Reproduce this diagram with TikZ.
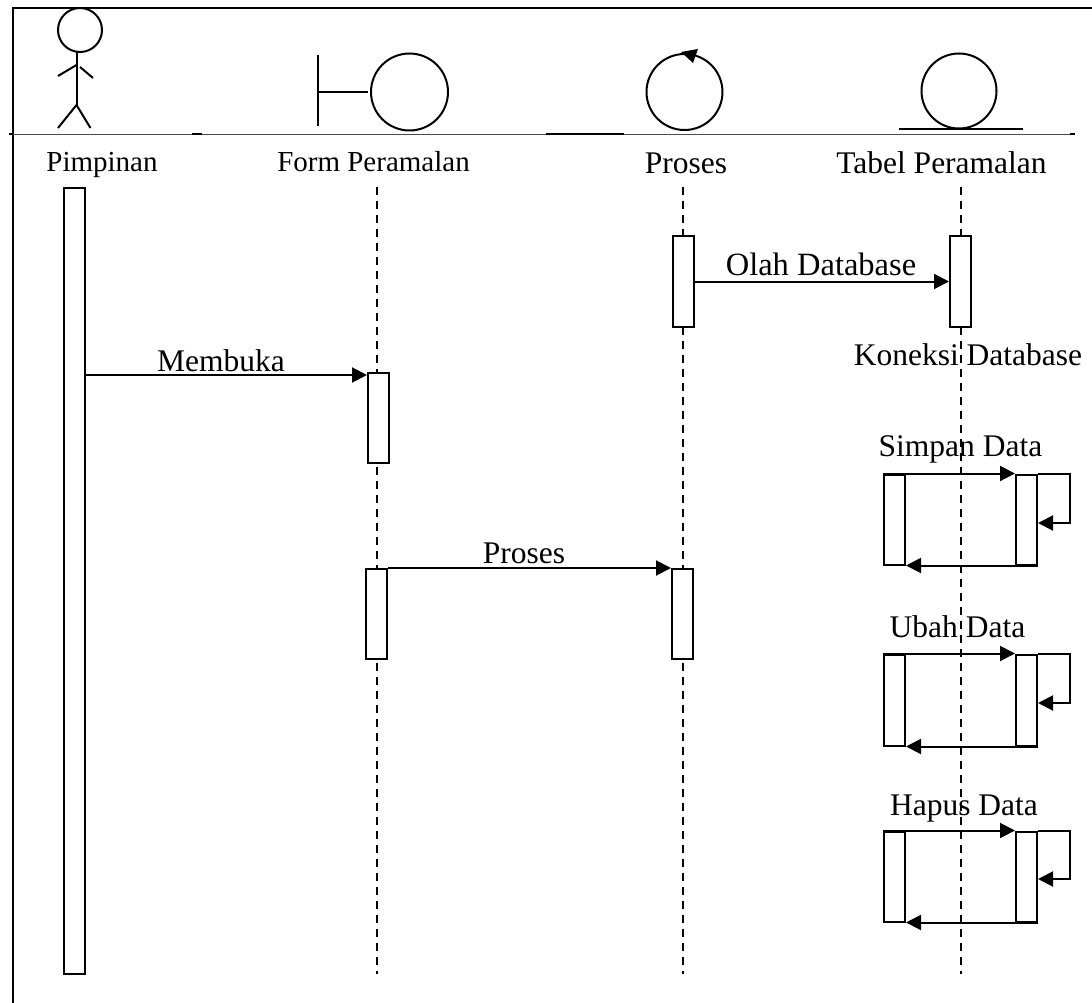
\documentclass[tikz,border=0pt]{standalone}
\usepackage{fontspec}
\setmainfont{Liberation Serif}
\usepackage{tikz}
\usetikzlibrary{positioning}
\usetikzlibrary{arrows.meta}

\tikzset{
    garis/.style = {line width=2pt},
    lifeline/.style = {line width=2pt, dash pattern=on 8pt off 6pt},
    bar/.style = {rectangle, draw, fill=white, line width=2pt, minimum width=21pt, inner sep=0pt, anchor=north west},
    msg/.style = {line width=2pt, -{Triangle[length=15pt,width=15pt]}},
    lingkaran/.style = {circle, draw, line width=2pt, minimum size=75pt, inner sep=0pt},
    teks/.style = {font=\fontsize{31.5}{36}\selectfont, inner sep=0pt, anchor=base},
    tekskecil/.style = {font=\fontsize{29}{34}\selectfont, inner sep=0pt, anchor=base},
}

\begin{document}
\begin{tikzpicture}[x=1pt, y=-1pt]
        \useasboundingbox (0,0) rectangle (1092,1003);

        \draw[line width=2.6pt] (13,1003) -- (13,8) -- (1092,8);
        \draw[line width=1pt, black!70] (9,134.5) -- (1075,134.5);
        \draw[line width=2pt] (9,134.5) -- (13,134.5);
        \draw[line width=2pt] (192,134.5) -- (202,134.5);
        \draw[line width=2pt] (546,134.5) -- (624,134.5);
        \draw[line width=2pt] (1070,134.5) -- (1075,134.5);

        \node[circle, draw, line width=2pt, minimum size=44pt, inner sep=0pt] (kepala) at (80,30) {};
        \coordinate (leher) at (76.5,52);
        \coordinate (pinggang) at (76.5,105);
        \draw[garis] (leher) -- (pinggang);
        \draw[garis] (76.5,65) -- (58,76);
        \draw[garis] (80,67) -- (93,78);
        \draw[garis] (pinggang) -- (58,128);
        \draw[garis] (pinggang) -- (90.5,128);

        \node[lingkaran, minimum size=77pt] (lingkaranform) at (409.5,92) {};
        \draw[garis] (317.5,55) -- (317.5,126);
        \draw[garis] (317.5,92) -- (368,92);

        \node[lingkaran, minimum size=76pt] (lingkaranproses) at (684.5,92) {};
        \fill (681,52) -- (698,49) -- (693,63) -- cycle;

        \node[lingkaran] (lingkarantabel) at (959,91) {};
        \draw[garis] (899,129) -- (1023,129);

        \node[tekskecil] (pimpinan) at (102,172) {Pimpinan};
        \node[tekskecil] (form) at (373.5,172) {Form Peramalan};
        \node[teks] (proses) at (686,174) {Proses};
        \node[teks] (tabel) at (941.5,174) {Tabel Peramalan};

        \coordinate (formatas) at (377,187);
        \coordinate (formbawah) at (377,974);
        \coordinate (prosesatas) at (683,187);
        \coordinate (prosesbawah) at (683,974);
        \coordinate (tabelatas) at (961,187);
        \coordinate (tabelbawah) at (961,974);
        \draw[lifeline] (formatas) -- (formbawah);
        \draw[lifeline] (prosesatas) -- (prosesbawah);
        \draw[lifeline] (tabelatas) -- (tabelbawah);

        \node[bar, minimum height=786pt] (barpimpinan) at (63,187) {};
        \node[bar, minimum height=91pt] (barprosesa) at (672,235) {};
        \node[bar, minimum height=91pt, right = 254pt of barprosesa.north east, anchor=north west] (bartabel) {};
        \node[bar, minimum height=90pt] (barforma) at (367,372) {};
        \node[bar, minimum height=90pt] (barformb) at (365,568) {};
        \node[bar, minimum height=90pt, right = 283pt of barformb.north east, anchor=north west] (barprosesb) {};

        \node[teks, font=\fontsize{32.5}{36}\selectfont] (olah) at (821,275) {Olah Database};
        \node[teks] (koneksi) at (968,365) {Koneksi Database};
        \node[teks] (membuka) at (221,371) {Membuka};
        \node[teks] (prosesmsg) at (524,563) {Proses};

        \draw[msg] (barprosesa) -- (bartabel);
        \coordinate (membukaujung) at (367,375);
        \draw[msg] (barpimpinan.east |- membukaujung) -- (membukaujung);
        \draw[msg] (barformb.north east) -- (barprosesb.north west);

        \node[teks] (simpan) at (960.5,456) {Simpan Data};
        \node[bar, minimum height=90pt] (simpankiri) at (883,473.5) {};
        \node[bar, minimum height=90pt, right = 109pt of simpankiri.north east, anchor=north west] (simpankanan) {};
        \coordinate (simpanluar) at (1070,473.5);
        \coordinate (simpanbalik) at (1070,523);
        \draw[msg] (simpankiri.north west) -- (simpankanan.north west);
        \draw[msg] (simpankanan.south east) -- (simpankiri.south east);
        \draw[msg] (simpankanan.north east) -- (simpanluar) -- (simpanbalik) -- (simpankanan.east |- simpanbalik);

        \node[teks] (ubah) at (957.5,637) {Ubah Data};
        \node[bar, minimum height=91pt] (ubahkiri) at (883,653.5) {};
        \node[bar, minimum height=91pt, right = 109pt of ubahkiri.north east, anchor=north west] (ubahkanan) {};
        \coordinate (ubahluar) at (1070,653.5);
        \coordinate (ubahbalik) at (1070,703);
        \draw[msg] (ubahkiri.north west) -- (ubahkanan.north west);
        \draw[msg] (ubahkanan.south east) -- (ubahkiri.south east);
        \draw[msg] (ubahkanan.north east) -- (ubahluar) -- (ubahbalik) -- (ubahkanan.east |- ubahbalik);

        \node[teks] (hapus) at (964,815) {Hapus Data};
        \node[bar, minimum height=90pt] (hapuskiri) at (883,830.5) {};
        \node[bar, minimum height=90pt, right = 109pt of hapuskiri.north east, anchor=north west] (hapuskanan) {};
        \coordinate (hapusluar) at (1070,830.5);
        \coordinate (hapusbalik) at (1070,879);
        \draw[msg] (hapuskiri.north west) -- (hapuskanan.north west);
        \draw[msg] (hapuskanan.south east) -- (hapuskiri.south east);
        \draw[msg] (hapuskanan.north east) -- (hapusluar) -- (hapusbalik) -- (hapuskanan.east |- hapusbalik);
    \end{tikzpicture}
\end{document}
